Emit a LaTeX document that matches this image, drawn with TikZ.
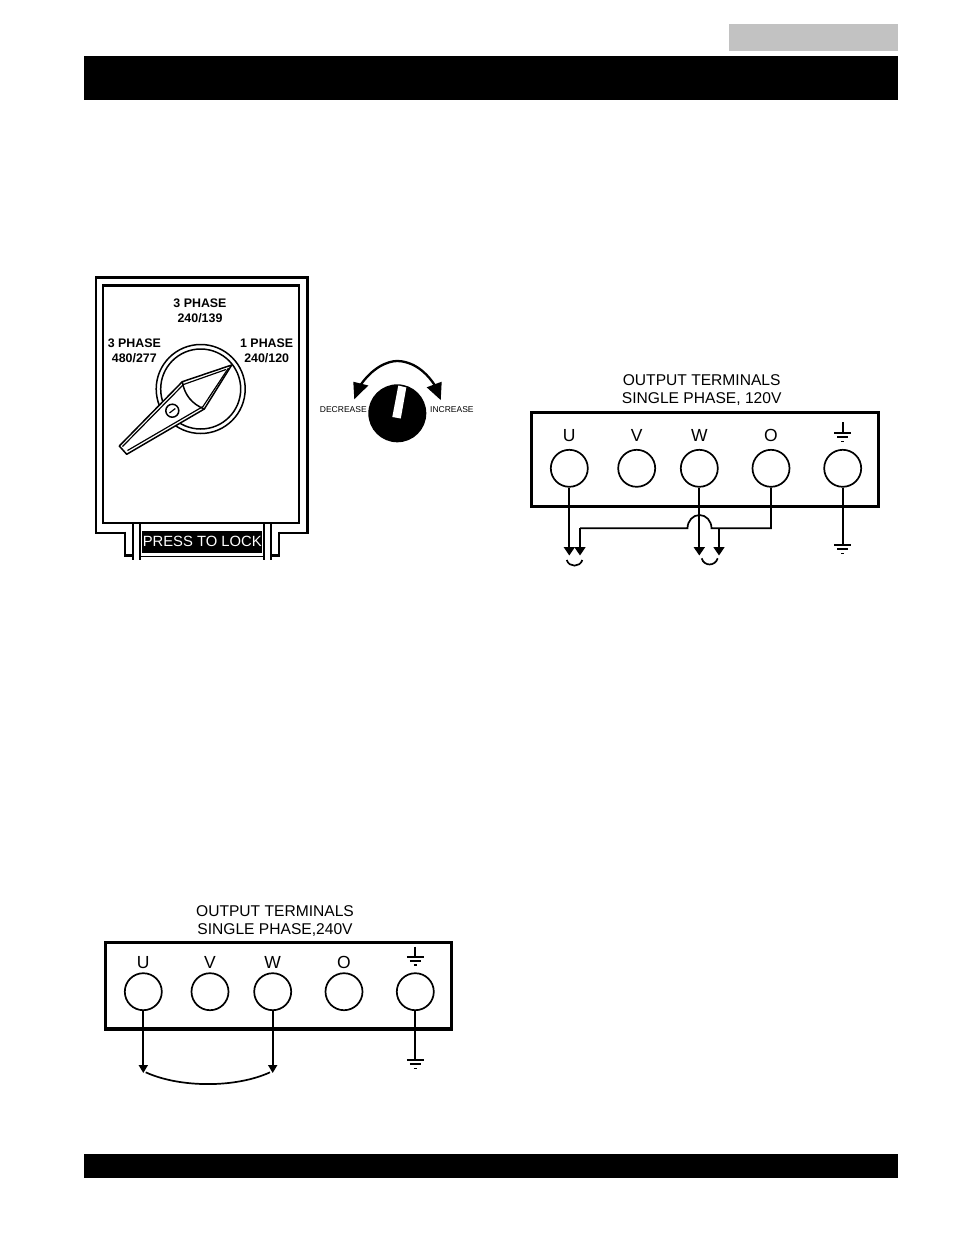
\documentclass[tikz,border=0pt]{standalone}
\usepackage{fontspec}
\setmainfont{Liberation Sans}
\usetikzlibrary{arrows.meta}
\definecolor{barblack}{HTML}{000000}
\definecolor{tabgrey}{HTML}{C2C2C2}
\tikzset{
  panel/.style={draw=black,line width=3.4pt,fill=white},
  term/.style={circle,draw=black,line width=1.7pt,minimum size=37pt,inner sep=0pt,fill=white},
  lett/.style={font=\fontsize{17.5}{17.5}\selectfont,inner sep=0pt},
  ttl/.style={font=\fontsize{15.6}{18}\selectfont,align=center,inner sep=0pt},
  sw/.style={font=\bfseries\fontsize{12.4}{15}\selectfont,align=center,inner sep=0pt},
  tiny/.style={font=\fontsize{8.5}{8.5}\selectfont,inner sep=0pt},
  wire/.style={line width=1.7pt,draw=black},
  wireh/.style={wire,-{Triangle[length=8.5pt,width=11pt]}},
  wires/.style={wire,-{Triangle[length=8pt,width=9pt]}},
  outline/.style={line width=2.8pt,draw=black},
  gnd/.style={line width=1.7pt,draw=black}
}
\newcommand{\gndbars}[1]{%
  \draw[gnd] ([xshift=-8.5pt]#1) -- ([xshift=8.5pt]#1);
  \draw[gnd] ([xshift=-5.5pt,yshift=-4.3pt]#1) -- ([xshift=5.5pt,yshift=-4.3pt]#1);
  \draw[gnd] ([xshift=-1.5pt,yshift=-8.5pt]#1) -- ([xshift=1.5pt,yshift=-8.5pt]#1);
}
\begin{document}
\begin{tikzpicture}[x=1pt,y=-1pt]
\useasboundingbox (0,0) rectangle (954,1235);
% header and footer
\fill[tabgrey] (729,24) rectangle (898,51);
\fill[barblack] (84,56) rectangle (898,100);
\fill[barblack] (84,1154) rectangle (898,1178);

% ---------- selector switch
\draw[outline] (125,533) -- (96,533) -- (96,277.5) -- (307.5,277.5) -- (307.5,533) -- (279,533);
\draw[outline] (125,531.6) -- (125,555.5) -- (133,555.5);
\draw[outline] (279,531.6) -- (279,555.5) -- (271,555.5);
\draw[line width=2.4pt] (103,285.5) rectangle (299,523);
\draw[line width=1.8pt] (140,556.5) -- (264,556.5);
\fill[black] (142,530.5) rectangle (262,552.5);
\draw[line width=2pt] (133,523) -- (133,560) (140,523) -- (140,560);
\draw[line width=2pt] (264,523) -- (264,560) (271,523) -- (271,560);
\node[inner sep=0pt,text=white,font=\fontsize{14.8}{15}\selectfont] (lock) at (202.3,541.5) {PRESS TO LOCK};
\node[sw] (s1) at (200,311.2) {3 PHASE\\240/139};
\node[sw] (s2) at (134.3,351.2) {3 PHASE\\480/277};
\node[sw] (s3) at (266.7,351.2) {1 PHASE\\240/120};
\node[circle,draw=black,line width=1.5pt,minimum size=89pt,inner sep=0pt] (dialo) at (200.7,389) {};
\node[circle,draw=black,line width=1.5pt,minimum size=80pt,inner sep=0pt] (diali) at (200.7,389) {};
\filldraw[fill=white,draw=black,line width=1.5pt,line join=round]
  (119.3,446) -- (182.3,381.7) -- (231.7,365) -- (204.3,409) -- (126.7,454.3) -- cycle;
\draw[line width=1.2pt] (122.5,446.5) -- (183.5,384.5) -- (226,369.5);
\draw[line width=1.2pt] (127.5,450.5) -- (203,406.5) -- (228.5,368);
\draw[line width=1.5pt] (182.3,381.7) .. controls (184.5,395) and (192,404) .. (204.3,409);
\node[circle,draw=black,line width=1.5pt,fill=white,minimum size=13pt,inner sep=0pt] (screw) at (172.3,410.7) {};
\draw[line width=1.2pt] (169.5,413) -- (175.3,408.5);

% ---------- knob
\node[circle,fill=black,minimum size=58pt,inner sep=0pt] (knob) at (397.3,413.3) {};
\fill[white] (392.3,417) -- (400.8,418.5) -- (406.3,387.5) -- (398.3,385.5) -- cycle;
\draw[line width=2.3pt] (358.5,388) .. controls (372,367) and (388,361) .. (397.3,361) .. controls (408,361) and (424,367) .. (436.5,388);
\fill[black] (353.3,381.7) -- (368.3,385.5) -- (354.3,399.3) -- cycle;
\fill[black] (441.7,381.7) -- (426.7,387.3) -- (440.7,400) -- cycle;
\node[tiny] (dec) at (343.3,409.6) {DECREASE};
\node[tiny] (inc) at (451.9,409.6) {INCREASE};

% ---------- 120 V panel
\node[ttl] (t1) at (701.7,390.2) {OUTPUT TERMINALS\\SINGLE PHASE, 120V};
\draw[panel] (531.7,412.7) rectangle (878.3,506.7);
\node[term] (au) at (569.3,468.3) {};
\node[term] (av) at (636.7,468.3) {};
\node[term] (aw) at (699.3,468.3) {};
\node[term] (ao) at (771,468.3) {};
\node[term] (ag) at (842.7,468.3) {};
\node[lett] (lau) at (569.3,435.5) {U};
\node[lett] (lav) at (636.7,435.5) {V};
\node[lett] (law) at (699.3,435.5) {W};
\node[lett] (lao) at (771,435.5) {O};
\coordinate (agt) at (842.7,433);
\draw[gnd] (842.7,422) -- (agt);
\gndbars{agt}
\coordinate (aue) at (569.3,555.5);
\coordinate (awe) at (699.3,555.5);
\coordinate (ax1) at (580,555.5);
\coordinate (ax2) at (719,555.5);
\coordinate (agb) at (842.7,545);
\draw[wireh] (au.south) -- (aue);
\draw[wire] (ag.south) -- (agb);
\gndbars{agb}
\draw[wire] (ao.south) |- (711.5,528.3) arc[start angle=0,end angle=180,x radius=12pt,y radius=13.3pt] -- (580,528.3);
\draw[wireh] (580,527.5) -- (ax1);
\draw[wireh] (719,528.3) -- (ax2);
\draw[wireh,line width=2pt] (aw.south) -- (awe);
\draw[wire] (566.7,560) .. controls (569,567.5) and (580,567.5) .. (582.3,560);
\draw[wire] (701.7,558.3) .. controls (704,566.5) and (715,566.5) .. (717.7,558.3);

% ---------- 240 V panel
\node[ttl] (t2) at (275,921.3) {OUTPUT TERMINALS\\SINGLE PHASE,240V};
\draw[panel] (105.7,942.7) rectangle (451.7,1029);
\node[term] (bu) at (143.3,991.7) {};
\node[term] (bv) at (210,991.7) {};
\node[term] (bw) at (272.7,991.7) {};
\node[term] (bo) at (344,991.7) {};
\node[term] (bg) at (415.3,991.7) {};
\node[lett] (lbu) at (143.3,962.5) {U};
\node[lett] (lbv) at (210,962.5) {V};
\node[lett] (lbw) at (272.7,962.5) {W};
\node[lett] (lbo) at (344,962.5) {O};
\coordinate (bgt) at (415.3,956.7);
\draw[gnd] (415.3,946.7) -- (bgt);
\gndbars{bgt}
\coordinate (bue) at (143.3,1073);
\coordinate (bwe) at (272.7,1073);
\coordinate (bgb) at (415.3,1060);
\draw[wires] (bu.south) -- (bue);
\draw[wires] (bw.south) -- (bwe);
\draw[wire] (bg.south) -- (bgb);
\gndbars{bgb}
\draw[wire] (145.7,1072.3) .. controls (180,1088) and (236,1088) .. (270,1072.3);
\end{tikzpicture}
\end{document}
